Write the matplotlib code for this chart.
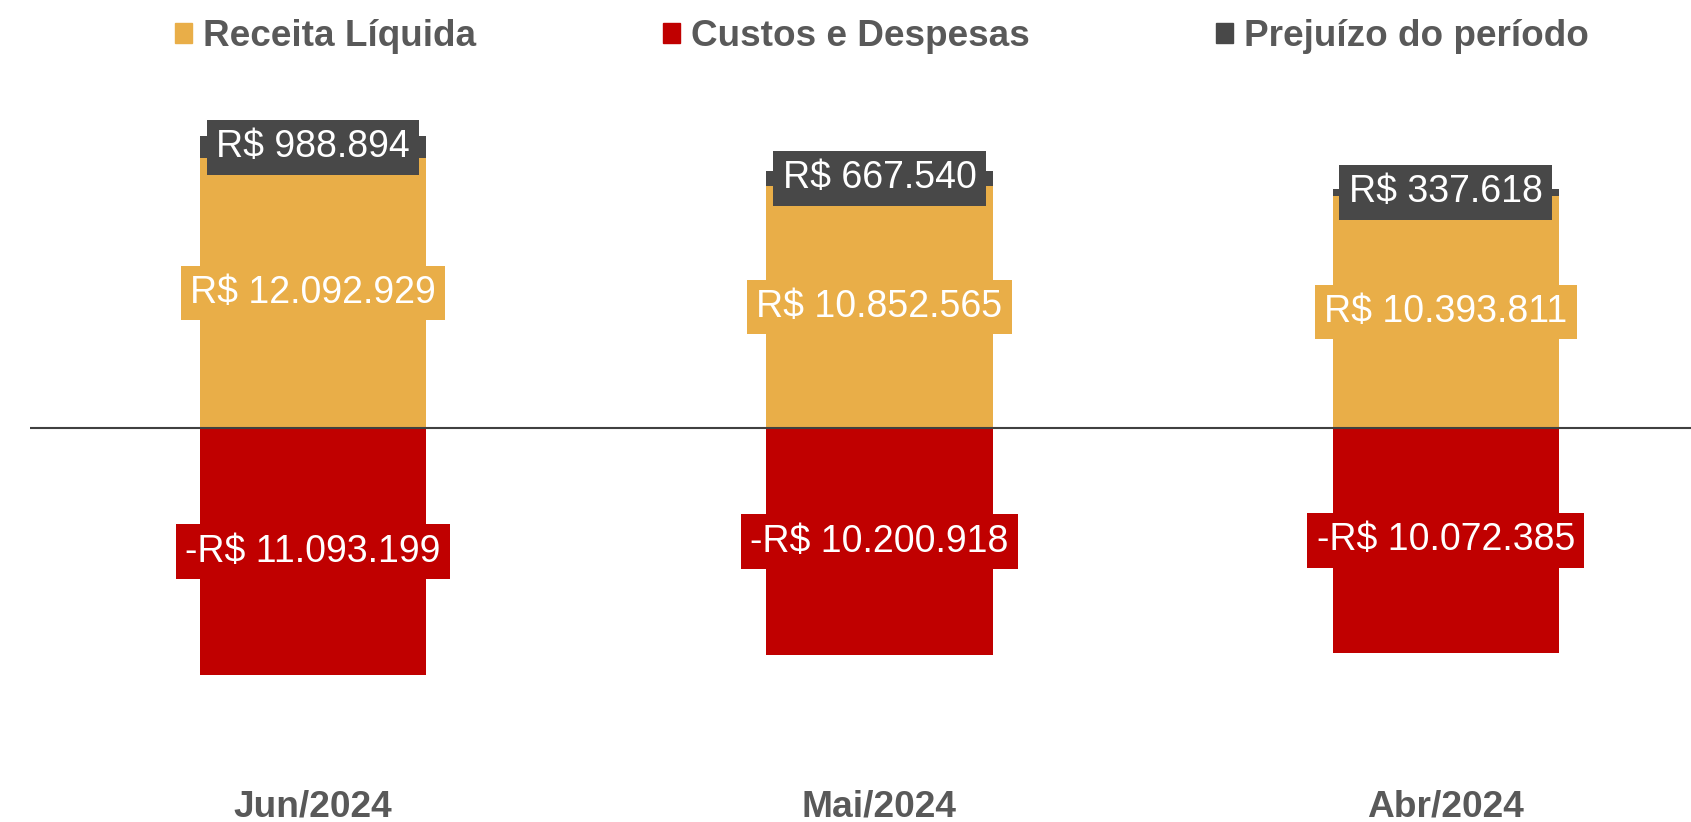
import matplotlib.pyplot as plt
from matplotlib.patches import Patch
from matplotlib.transforms import blended_transform_factory

plt.rcParams['font.family'] = ['Liberation Sans', 'DejaVu Sans']

meses = ['Jun/2024', 'Mai/2024', 'Abr/2024']
receita = [12092929, 10852565, 10393811]
custos = [-11093199, -10200918, -10072385]
prejuizo = [988894, 667540, 337618]

cor_receita = '#E9AE48'
cor_custos = '#C00000'
cor_prejuizo = '#484848'
cor_texto = '#595959'


def fmt(v):
    s = 'R$ ' + f'{abs(v):,}'.replace(',', '.')
    if v < 0:
        s = '-' + s
    return s


def rotulo(ax, x, y, texto, cor):
    ax.text(x, y, texto, ha='center', va='center', color='white', fontsize=27,
            bbox=dict(boxstyle='square,pad=0.25', fc=cor, ec='none'), zorder=5)


fig = plt.figure(figsize=(16.91, 8.22), dpi=100)
ax = fig.add_axes([30 / 1691, 0, 1 - 30 / 1691, 1])

x = list(range(len(meses)))
largura = 0.4
ax.bar(x, receita, largura, color=cor_receita, zorder=2)
ax.bar(x, custos, largura, color=cor_custos, zorder=2)
ax.bar(x, prejuizo, largura, bottom=receita, color=cor_prejuizo, zorder=2)
ax.axhline(0, color='#404040', lw=1.5, zorder=3)

for i in x:
    rotulo(ax, i, receita[i] / 2, fmt(receita[i]), cor_receita)
    rotulo(ax, i, custos[i] / 2, fmt(custos[i]), cor_custos)
    rotulo(ax, i, receita[i] + prejuizo[i] / 2, fmt(prejuizo[i]), cor_prejuizo)

# nomes dos meses embaixo
tr = blended_transform_factory(ax.transData, ax.transAxes)
for i in x:
    ax.text(i, 15 / 822, meses[i], transform=tr, ha='center', va='center',
            fontsize=26.7, fontweight='bold', color=cor_texto)

ax.set_xlim(-0.5, 2.433)
ax.set_ylim(-17.67e6, 19.19e6)
ax.axis('off')

handles = [Patch(color=cor_receita, label='Receita Líquida'),
           Patch(color=cor_custos, label='Custos e Despesas'),
           Patch(color=cor_prejuizo, label='Prejuízo do período')]
leg = fig.legend(handles=handles, loc='center', bbox_to_anchor=(882 / 1691, 1 - 37 / 822),
                 ncol=3, frameon=False, fontsize=26.6, handlelength=0.46, handleheight=0.46,
                 handletextpad=0.3, columnspacing=5.05, borderpad=0)
for t in leg.get_texts():
    t.set_color(cor_texto)
    t.set_fontweight('bold')

fig.savefig('out.png', dpi=100)
